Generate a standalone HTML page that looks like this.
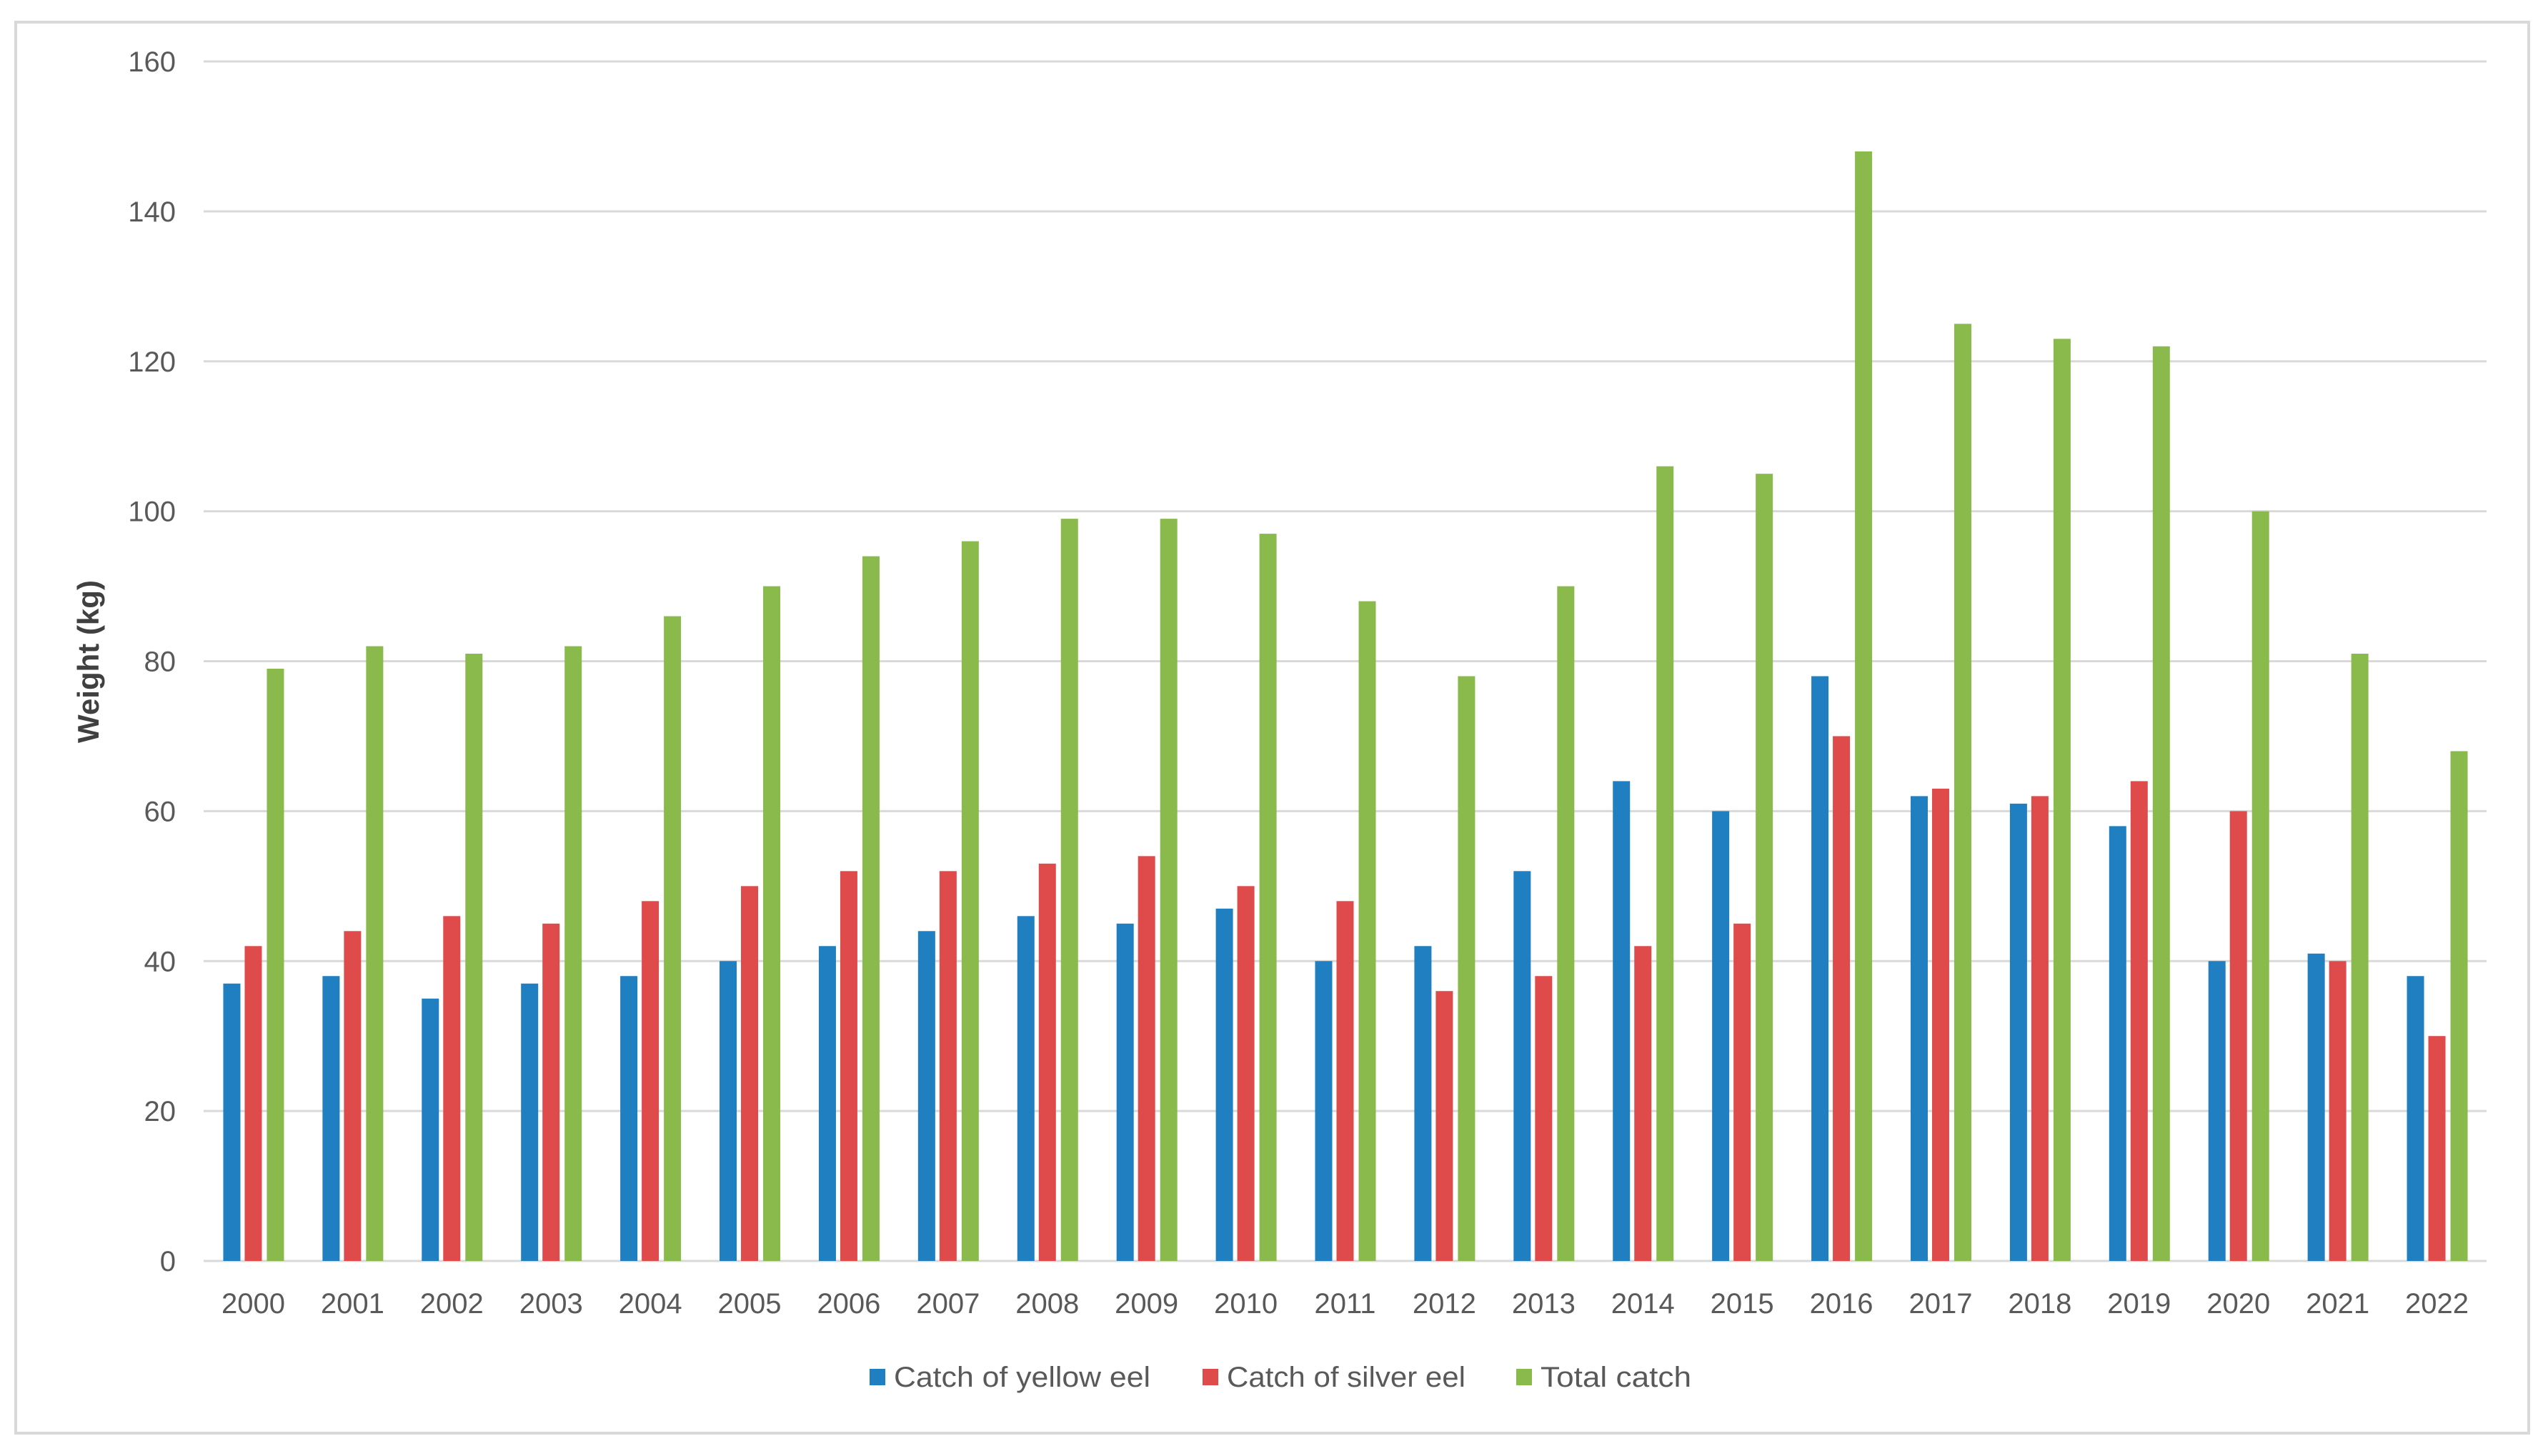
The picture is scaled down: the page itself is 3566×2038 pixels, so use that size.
<!DOCTYPE html>
<html><head><meta charset="utf-8"><style>
html,body{margin:0;padding:0;background:#fff;}
svg{display:block;}
text{font-family:"Liberation Sans",sans-serif;fill:#595959;}
</style></head><body>
<svg id="chart" width="3566" height="2038" viewBox="0 0 3566 2038" xmlns="http://www.w3.org/2000/svg">
<rect x="22" y="31" width="3517" height="1975" fill="#fff" stroke="#d9d9d9" stroke-width="4"/>
<g id="grid"></g><g id="bars"></g><g id="xlabels"></g><g id="ylabels"></g>
<text x="0" y="0" transform="translate(138,926) rotate(-90)" text-anchor="middle" font-size="42" font-weight="bold" fill="#404040" style="fill:#404040">Weight (kg)</text>
<g>
<rect x="1217" y="1916" width="22" height="23" fill="#1f7fc1"/>
<text x="1251" y="1941" font-size="40" textLength="359" lengthAdjust="spacingAndGlyphs">Catch of yellow eel</text>
<rect x="1683" y="1916" width="22" height="23" fill="#df4b4b"/>
<text x="1717" y="1941" font-size="40" textLength="334" lengthAdjust="spacingAndGlyphs">Catch of silver eel</text>
<rect x="2122" y="1916" width="22" height="23" fill="#8aba4b"/>
<text x="2156" y="1941" font-size="40" textLength="211" lengthAdjust="spacingAndGlyphs">Total catch</text>
</g>
</svg>
<script>
const categories = ["2000","2001","2002","2003","2004","2005","2006","2007","2008","2009","2010","2011","2012","2013","2014","2015","2016","2017","2018","2019","2020","2021","2022"];
const yellowEel = [37,38,35,37,38,40,42,44,46,45,47,40,42,52,64,60,78,62,61,58,40,41,38];
const silverEel = [42,44,46,45,48,50,52,52,53,54,50,48,36,38,42,45,70,63,62,64,60,40,30];
const totalCatch = [79,82,81,82,86,90,94,96,99,99,97,88,78,90,106,105,148,125,123,122,100,81,68];
const yTicks = [0,20,40,60,80,100,120,140,160];

const NS = "http://www.w3.org/2000/svg";
const X0 = 285, X1 = 3480, Y0 = 1765, YTOP = 86, YMAX = 160;
const band = (X1 - X0) / categories.length;
function xCenter(i){ return X0 + band * (i + 0.5); }
function yPos(v){ return Y0 - (v / YMAX) * (Y0 - YTOP); }
function mk(tag, attrs, parent){
  const el = document.createElementNS(NS, tag);
  for (const k in attrs) el.setAttribute(k, attrs[k]);
  parent.appendChild(el);
  return el;
}
const grid = document.getElementById('grid');
const ylab = document.getElementById('ylabels');
yTicks.forEach(t => {
  const ln = mk('line', {x1: X0, x2: X1, y1: yPos(t), y2: yPos(t), stroke: '#d9d9d9', 'stroke-width': 3}, grid);
  
  
  const tx = mk('text', {x: 246, y: yPos(t) + 14, 'text-anchor': 'end', 'font-size': 40}, ylab);
  tx.textContent = t;
  
  
});
const barsG = document.getElementById('bars');
const xl = document.getElementById('xlabels');
const series = [[yellowEel, '#1f7fc1', 'yellow', -30], [silverEel, '#df4b4b', 'silver', 0], [totalCatch, '#8aba4b', 'total', 31]];
categories.forEach((c, i) => {
  series.forEach(s => {
    const v = s[0][i];
    const r = mk('rect', {x: xCenter(i) + s[3] - 12, y: yPos(v), width: 24, height: Y0 - yPos(v), fill: s[1]}, barsG);
    
    
  });
  const t = mk('text', {x: xCenter(i), y: 1838, 'text-anchor': 'middle', 'font-size': 40}, xl);
  t.textContent = c;
  
  
});
</script>
</body></html>
